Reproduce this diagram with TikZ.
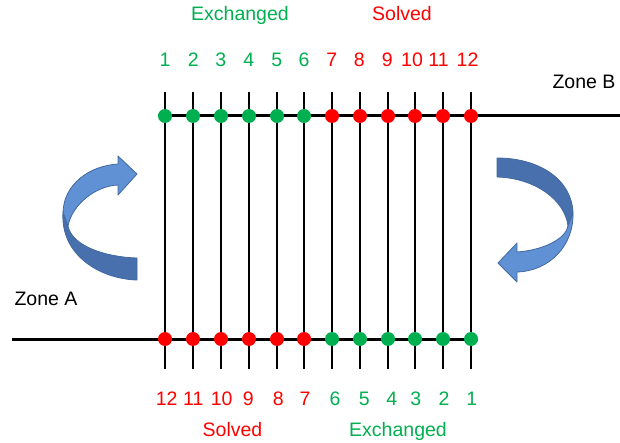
\documentclass[tikz,border=0pt]{standalone}
\usepackage{fontspec}
\setmainfont{Liberation Sans}
\definecolor{okgreen}{RGB}{0,176,80}
\definecolor{okred}{RGB}{255,0,0}
\definecolor{arrlight}{RGB}{95,145,212}
\definecolor{arrdark}{RGB}{72,112,172}
\definecolor{arredge}{RGB}{65,105,160}
\begin{document}
\begin{tikzpicture}[x=1pt,y=-1pt,
  lbl/.style={font=\fontsize{19.5}{22}\selectfont,anchor=base,inner sep=0pt},
  gtxt/.style={lbl,text=okgreen},
  rtxt/.style={lbl,text=okred},
  gdot/.style={circle,fill=okgreen,minimum size=14pt,inner sep=0pt},
  rdot/.style={circle,fill=okred,minimum size=14pt,inner sep=0pt},
  vline/.style={black,line width=2pt},
  hline/.style={black,line width=3pt},
  ribbonlight/.style={fill=arrlight,draw=arredge,line width=0.8pt,line join=round},
  ribbondark/.style={fill=arrdark,draw=arredge,line width=0.8pt,line join=round}]
\useasboundingbox (0,0) rectangle (620,443);
% horizontal lines
\coordinate (ts) at (158,116);
\coordinate (te) at (620,116);
\coordinate (bs) at (12,339);
\coordinate (be) at (478,339);
\draw[hline] (ts) -- (te);
\draw[hline] (bs) -- (be);
% vertical lines
\foreach \i/\x in {1/165,2/193,3/221,4/249,5/277,6/304,7/332,8/360,9/388,10/415,11/443,12/471}{
  \coordinate (vt\i) at (\x,92);
  \coordinate (vb\i) at (\x,369);
  \draw[vline] (vt\i) -- (vb\i);
}
% top dots
\foreach \i/\x in {1/165,2/193,3/221,4/249,5/277,6/304}{
  \node[gdot] (td\i) at (\x,116) {};
}
\foreach \i/\x in {7/332,8/360,9/388,10/415,11/443,12/471}{
  \node[rdot] (td\i) at (\x,116) {};
}
% bottom dots
\foreach \i/\x in {1/165,2/193,3/221,4/249,5/277,6/304}{
  \node[rdot] (bd\i) at (\x,339) {};
}
\foreach \i/\x in {7/332,8/360,9/388,10/415,11/443,12/471}{
  \node[gdot] (bd\i) at (\x,339) {};
}
% top numbers
\foreach \n/\x in {1/165,2/193.3,3/220.7,4/248.7,5/276.7,6/304}{
  \node[gtxt] (tn\n) at (\x,66.5) {\n};
}
\foreach \n/\x in {7/331.7,8/359.3,9/387.3,10/412,11/438.5,12/467.5}{
  \node[rtxt] (tn\n) at (\x,66.5) {\n};
}
% bottom numbers
\foreach \n/\x in {12/166.7,11/193.3,10/221.7,9/248.3,8/278.3,7/305}{
  \node[rtxt] (bn\n) at (\x,405) {\n};
}
\foreach \n/\x in {6/335,5/364.3,4/391.7,3/415.7,2/444,1/471.7}{
  \node[gtxt] (bn\n) at (\x,405) {\n};
}
% group labels
\node[gtxt] (exTop) at (240,21) {Exchanged};
\node[rtxt] (soTop) at (402,21) {Solved};
\node[rtxt] (soBot) at (232.5,436) {Solved};
\node[gtxt] (exBot) at (398,436) {Exchanged};
% zone labels
\node[lbl] (zoneB) at (584,89) {Zone B};
\node[lbl] (zoneA) at (46,305) {Zone A};
% left curved arrow
\draw[ribbondark] (63,212) .. controls (60,255) and (100,279) .. (137,280) -- (137,258)
   .. controls (105,257) and (72,246) .. (68,226) -- cycle;
\draw[ribbonlight] (118,164) .. controls (88,166) and (64,185) .. (63,212) -- (68,226)
   .. controls (72,205) and (95,186) .. (118,185) -- (118,195) -- (137,174) -- (118,156) -- cycle;
% right curved arrow
\draw[ribbondark] (497,158) .. controls (540,158) and (572,180) .. (573,213) -- (568,226)
   .. controls (565,200) and (535,178) .. (497,177) -- cycle;
\draw[ribbonlight] (573,213) .. controls (574,245) and (550,271) .. (517,272) -- (517,282)
   -- (498,263) -- (517,243) -- (517,252) .. controls (545,250) and (566,238) .. (568,226) -- cycle;
\end{tikzpicture}
\end{document}
